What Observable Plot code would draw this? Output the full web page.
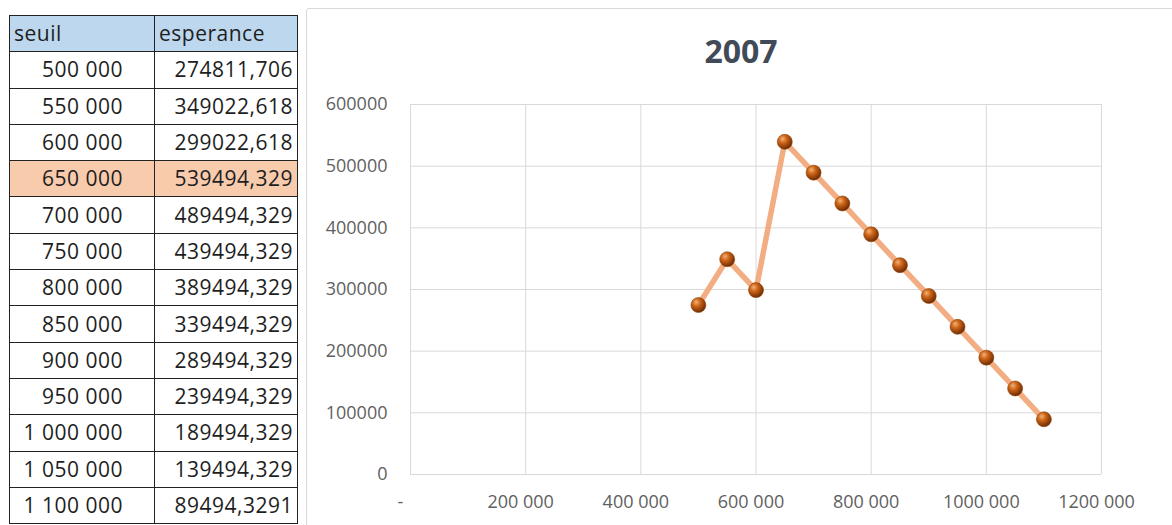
<!DOCTYPE html>
<html>
<head>
<meta charset="utf-8">
<script src="https://cdn.jsdelivr.net/npm/d3@7"></script>
<script src="https://cdn.jsdelivr.net/npm/@observablehq/plot@0.6"></script>
<style>
  html, body { margin: 0; padding: 0; background: #fff; }
  #page { position: relative; width: 1172px; height: 525px; overflow: hidden; background: #fff; }
  #tbl {
    position: absolute; left: 9px; top: 15px;
    border-collapse: collapse; table-layout: fixed;
    font-family: "Open Sans", sans-serif; font-size: 21px; letter-spacing: 0.5px;
    color: #1e1e1e;
  }
  #tbl td { border: 1.5px solid #222; height: 36.3px; padding: 0; line-height: 1; white-space: nowrap; box-sizing: border-box; }
  #tbl td.c1 { width: 145px; text-align: right; padding-right: 31px; }
  #tbl td.c2 { width: 143px; text-align: right; padding-right: 4px; }
  #tbl tr.head td { background: #bdd7ee; text-align: left; padding-left: 4px; padding-right: 0; }
  #tbl tr.hi td { background: #f8cbad; }
  #chart { position: absolute; left: 306px; top: 8px; width: 880px; height: 530px;
           border: 1px solid #d9d9d9; border-radius: 3px; box-sizing: border-box; }
  #chart svg { position: absolute; left: -1px; top: -1px; }
</style>
</head>
<body>
<div id="page">
  <table id="tbl"></table>
  <div id="chart"></div>
</div>
<script>
// Threshold ("seuil") and expected value ("esperance") for 2007
const seuil = [500000, 550000, 600000, 650000, 700000, 750000, 800000, 850000, 900000, 950000, 1000000, 1050000, 1100000];
const esperance = [274811.706, 349022.618, 299022.618, 539494.329, 489494.329, 439494.329, 389494.329, 339494.329, 289494.329, 239494.329, 189494.329, 139494.329, 89494.3291];
const headers = ["seuil", "esperance"];
const chartTitle = "2007";
const yTicks = [0, 100000, 200000, 300000, 400000, 500000, 600000];
const xTicks = [0, 200000, 400000, 600000, 800000, 1000000, 1200000];
const xTickLabels = ["-", "200 000", "400 000", "600 000", "800 000", "1000 000", "1200 000"];

const data = seuil.map((s, i) => ({seuil: s, esperance: esperance[i]}));

// ---- worksheet table ----
const fmtSeuil = d => d3.format(",")(d).replace(/,/g, " ");
const fmtEsp = d => String(d).replace(".", ",");
const best = d3.maxIndex(esperance);
const tbl = d3.select("#tbl");
const head = tbl.append("tr").attr("class", "head");
head.append("td").attr("class", "c1").text(headers[0]);
head.append("td").attr("class", "c2").text(headers[1]);
data.forEach((d, i) => {
  const tr = tbl.append("tr").attr("class", i === best ? "hi" : null);
  tr.append("td").attr("class", "c1").text(fmtSeuil(d.seuil));
  tr.append("td").attr("class", "c2").text(fmtEsp(d.esperance));
});

// ---- chart ----
const labelOf = new Map(xTicks.map((t, i) => [t, xTickLabels[i]]));
const W = 867, H = 518;
const chart = Plot.plot({
  width: W,
  height: H,
  marginLeft: 104,
  marginTop: 96,
  marginRight: 72,
  marginBottom: 52,
  style: {fontFamily: "Open Sans, sans-serif", fontSize: "18px", color: "#5f5f5f", background: "transparent", overflow: "visible"},
  x: {domain: [0, 1200000]},
  y: {domain: [0, 600000]},
  marks: [
    Plot.gridX(xTicks, {stroke: "#d9d9d9", strokeOpacity: 1, strokeWidth: 1}),
    Plot.gridY(yTicks, {stroke: "#d9d9d9", strokeOpacity: 1, strokeWidth: 1}),
    Plot.axisY(yTicks, {tickSize: 0, tickPadding: 23, tickFormat: d => String(d), label: null}),
    Plot.axisX(xTicks.slice(1), {tickSize: 0, tickPadding: 21, dx: -5, tickFormat: d => labelOf.get(d), label: null}),
    Plot.axisX([0], {tickSize: 0, tickPadding: 21, dx: -10, tickFormat: d => labelOf.get(d), label: null}),
    Plot.line(data, {x: "seuil", y: "esperance", stroke: "#f2ae82", strokeWidth: 5.5, strokeLinejoin: "round", strokeLinecap: "round"}),
    Plot.dot(data, {x: "seuil", y: "esperance", r: 7.5, fill: "url(#ball)", stroke: "#8f440c", strokeWidth: 0.6})
  ]
});

const svg = d3.select(chart);
const grad = svg.insert("defs", ":first-child")
  .append("radialGradient").attr("id", "ball")
  .attr("cx", "38%").attr("cy", "35%").attr("r", "65%").attr("fx", "35%").attr("fy", "30%");
grad.append("stop").attr("offset", "0%").attr("stop-color", "#f2b27a");
grad.append("stop").attr("offset", "40%").attr("stop-color", "#cf6618");
grad.append("stop").attr("offset", "100%").attr("stop-color", "#702c04");

svg.append("text")
  .attr("x", 435).attr("y", 55)
  .attr("text-anchor", "middle")
  .attr("font-family", "Open Sans, sans-serif")
  .attr("font-weight", "bold")
  .attr("font-size", 32)
  .attr("fill", "#414b57")
  .text(chartTitle);

document.getElementById("chart").appendChild(chart);
</script>
</body>
</html>
